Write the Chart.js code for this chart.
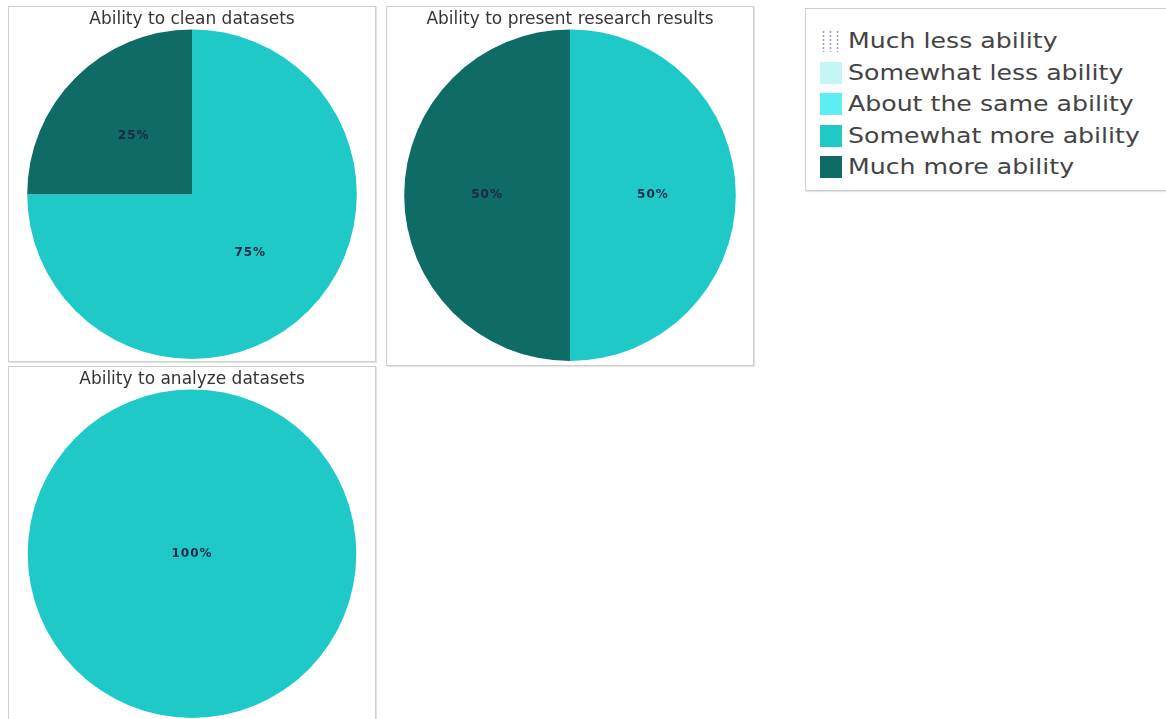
<!DOCTYPE html>
<html>
<head>
<meta charset="utf-8">
<script src="https://cdn.jsdelivr.net/npm/chart.js@4.4.1/dist/chart.umd.min.js"></script>
<style>
  body { margin: 0; background: #fff; width: 1166px; height: 719px; overflow: hidden; position: relative; font-family: "DejaVu Sans", Verdana, sans-serif; }
  .panel { position: absolute; border: 1px solid #cfcfcf; box-shadow: 1px 1px 1px #e4e4e4; background: #fff; }
  .panel .box { position: absolute; left: 0; top: 0; }
  #legend { position: absolute; left: 805px; top: 8px; width: 380px; height: 181px; border: 1px solid #cfcfcf; box-shadow: 1px 1px 1px #e4e4e4; }
  .row { position: absolute; left: 14px; height: 24px; display: flex; align-items: center; font-size: 21px; color: #444; white-space: nowrap; }
  .sw { width: 22px; height: 22px; margin-right: 6px; }
  .row .txt { display: inline-block; transform: scaleX(1.2); transform-origin: left center; }
</style>
</head>
<body>
<div class="panel" id="p0" style="left:8px; top:6px; width:366px; height:354px;"><div class="box" style="width:366px; height:352px;"><canvas id="c0"></canvas></div></div>
<div class="panel" id="p1" style="left:386px; top:6px; width:366px; height:358px;"><div class="box" style="width:366px; height:354px;"><canvas id="c1"></canvas></div></div>
<div class="panel" id="p2" style="left:8px; top:366px; width:366px; height:360px;"><div class="box" style="width:366px; height:351px;"><canvas id="c2"></canvas></div></div>
<div id="legend"></div>
<script>
// categories (answer options) and colours
const categories = ['Much less ability', 'Somewhat less ability', 'About the same ability', 'Somewhat more ability', 'Much more ability'];
const categoryColors = ['#f4f6fa', '#c6f5f6', '#5deef4', '#1ec9c8', '#0e6b66'];

// one pie per question
const chartTitles = ['Ability to clean datasets', 'Ability to present research results', 'Ability to analyze datasets'];
const cleanValues = [0, 0, 0, 75, 25];
const presentValues = [0, 0, 0, 50, 50];
const analyzeValues = [0, 0, 0, 100, 0];

const allValues = [cleanValues, presentValues, analyzeValues];

// percentage labels drawn on top of each slice
const pctLabels = {
  id: 'pctLabels',
  afterDatasetsDraw(chart) {
    const ctx = chart.ctx;
    const meta = chart.getDatasetMeta(0);
    const data = chart.data.datasets[0].data;
    const total = data.reduce((a, b) => a + b, 0);
    ctx.save();
    ctx.font = 'bold 12px "DejaVu Sans", Verdana, sans-serif';
    ctx.letterSpacing = '1px';
    ctx.fillStyle = '#1c2847';
    ctx.textAlign = 'center';
    ctx.textBaseline = 'middle';
    meta.data.forEach((arc, i) => {
      const v = data[i];
      if (!v) return;
      let pos;
      if (v === total) {
        pos = { x: arc.x, y: arc.y };
      } else {
        pos = arc.tooltipPosition();
      }
      ctx.fillText(Math.round(v / total * 100) + '%', pos.x, pos.y);
    });
    ctx.restore();
  }
};

allValues.forEach((values, k) => {
  new Chart(document.getElementById('c' + k), {
    type: 'pie',
    data: {
      labels: categories,
      datasets: [{
        data: values,
        backgroundColor: categoryColors,
        borderWidth: 0
      }]
    },
    options: {
      responsive: true,
      maintainAspectRatio: false,
      animation: false,
      layout: { padding: 0 },
      plugins: {
        legend: { display: false },
        tooltip: { enabled: false },
        title: {
          display: true,
          text: chartTitles[k],
          color: '#353535',
          font: { family: '"DejaVu Sans", Verdana, sans-serif', size: 17, weight: 'normal' },
          padding: { top: 2, bottom: 0 }
        }
      }
    },
    plugins: [pctLabels]
  });
});

// legend built from the same categories
const legend = document.getElementById('legend');
categories.forEach((name, i) => {
  const row = document.createElement('div');
  row.className = 'row';
  row.style.top = (20 + i * 31.5) + 'px';
  const sw = document.createElement('span');
  sw.className = 'sw';
  if (i === 0) {
    sw.style.backgroundImage = 'radial-gradient(circle, #9aa0b8 0.9px, transparent 1.2px)';
    sw.style.backgroundSize = '7px 4px';
  } else {
    sw.style.background = categoryColors[i];
  }
  const txt = document.createElement('span');
  txt.className = 'txt';
  txt.textContent = name;
  row.appendChild(sw);
  row.appendChild(txt);
  legend.appendChild(row);
});
</script>
</body>
</html>
